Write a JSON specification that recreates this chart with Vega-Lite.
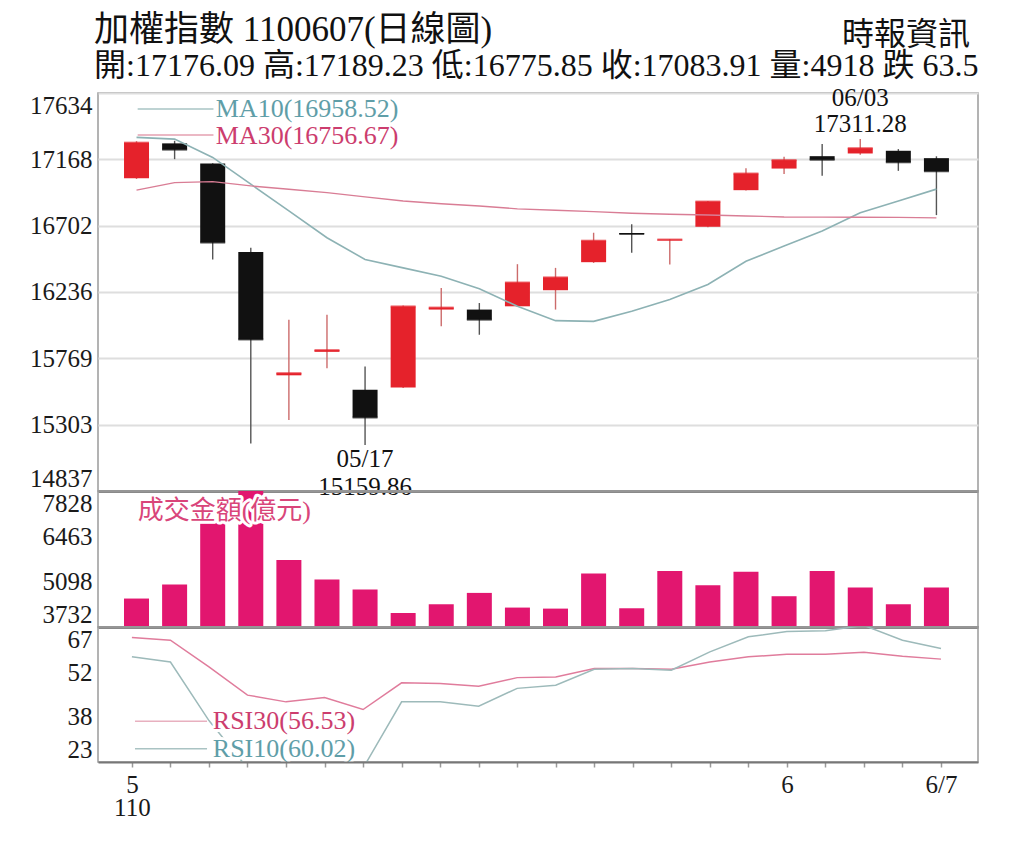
{
  "$schema": "https://vega.github.io/schema/vega-lite/v6.json",
  "background": "white",
  "padding": {"left": 28, "top": 13, "right": 20, "bottom": 10},
  "bounds": "flush",
  "spacing": 0,
  "title": {
    "text": "加權指數 1100607(日線圖)",
    "subtitle": "開:17176.09 高:17189.23 低:16775.85 收:17083.91 量:4918 跌 63.5",
    "anchor": "start",
    "frame": "group",
    "font": "Liberation Serif, Noto Sans CJK TC",
    "subtitleFont": "Liberation Serif, Noto Sans CJK TC",
    "fontSize": 35,
    "fontWeight": "normal",
    "color": "#111111",
    "subtitleFontSize": 32,
    "subtitleFontWeight": "normal",
    "subtitleColor": "#111111",
    "subtitlePadding": 3,
    "dx": -4,
    "offset": -64
  },
  "datasets": {
    "taiex": [
      {"d": "05/07", "i": 0, "open": 17035, "high": 17295, "low": 17030, "close": 17285, "vol": 4589, "ma10": 17322, "ma30": 16951, "rsi10": 57.3, "rsi30": 63.6},
      {"d": "05/10", "i": 1, "open": 17280, "high": 17298, "low": 17169, "close": 17236, "vol": 5014, "ma10": 17310, "ma30": 17004, "rsi10": 55.6, "rsi30": 62.7},
      {"d": "05/11", "i": 2, "open": 17138, "high": 17140, "low": 16464, "close": 16583, "vol": 6900, "ma10": 17181, "ma30": 17011, "rsi10": 36.5, "rsi30": 54.0},
      {"d": "05/12", "i": 3, "open": 16516, "high": 16546, "low": 15170, "close": 15902, "vol": 7828, "ma10": 16993, "ma30": 16981, "rsi10": 21.0, "rsi30": 44.8},
      {"d": "05/13", "i": 4, "open": 15650, "high": 16041, "low": 15336, "close": 15665, "vol": 5750, "ma10": 16805, "ma30": 16958, "rsi10": 20.0, "rsi30": 42.6},
      {"d": "05/14", "i": 5, "open": 15815, "high": 16076, "low": 15700, "close": 15827, "vol": 5165, "ma10": 16617, "ma30": 16934, "rsi10": 21.5, "rsi30": 44.0},
      {"d": "05/17", "i": 6, "open": 15548, "high": 15712, "low": 15159.86, "close": 15353.89, "vol": 4862, "ma10": 16464, "ma30": 16904, "rsi10": 21.0, "rsi30": 40.1},
      {"d": "05/18", "i": 7, "open": 15564, "high": 16140, "low": 15560, "close": 16134, "vol": 4153, "ma10": 16405, "ma30": 16875, "rsi10": 42.6, "rsi30": 48.8},
      {"d": "05/19", "i": 8, "open": 16112, "high": 16264, "low": 15994, "close": 16126, "vol": 4417, "ma10": 16346, "ma30": 16856, "rsi10": 42.6, "rsi30": 48.6},
      {"d": "05/20", "i": 9, "open": 16112, "high": 16158, "low": 15935, "close": 16041, "vol": 4759, "ma10": 16258, "ma30": 16840, "rsi10": 41.2, "rsi30": 47.7},
      {"d": "05/21", "i": 10, "open": 16135, "high": 16431, "low": 16130, "close": 16302, "vol": 4317, "ma10": 16135, "ma30": 16820, "rsi10": 47.0, "rsi30": 50.5},
      {"d": "05/24", "i": 11, "open": 16248, "high": 16405, "low": 16112, "close": 16338, "vol": 4286, "ma10": 16034, "ma30": 16810, "rsi10": 48.0, "rsi30": 50.7},
      {"d": "05/25", "i": 12, "open": 16445, "high": 16652, "low": 16440, "close": 16596, "vol": 5347, "ma10": 16029, "ma30": 16800, "rsi10": 53.2, "rsi30": 53.5},
      {"d": "05/26", "i": 13, "open": 16650, "high": 16711, "low": 16511, "close": 16643, "vol": 4296, "ma10": 16100, "ma30": 16789, "rsi10": 53.5, "rsi30": 53.5},
      {"d": "05/27", "i": 14, "open": 16597, "high": 16606, "low": 16429, "close": 16604, "vol": 5417, "ma10": 16182, "ma30": 16782, "rsi10": 52.9, "rsi30": 53.2},
      {"d": "05/28", "i": 15, "open": 16694, "high": 16875, "low": 16690, "close": 16871, "vol": 4992, "ma10": 16288, "ma30": 16777, "rsi10": 58.9, "rsi30": 55.6},
      {"d": "05/31", "i": 16, "open": 16951, "high": 17106, "low": 16948, "close": 17068, "vol": 5395, "ma10": 16452, "ma30": 16770, "rsi10": 63.8, "rsi30": 57.3},
      {"d": "06/01", "i": 17, "open": 17103, "high": 17186, "low": 17064, "close": 17162, "vol": 4659, "ma10": 16558, "ma30": 16763, "rsi10": 65.5, "rsi30": 58.1},
      {"d": "06/02", "i": 18, "open": 17190, "high": 17275, "low": 17052, "close": 17165, "vol": 5417, "ma10": 16664, "ma30": 16762, "rsi10": 65.8, "rsi30": 58.1},
      {"d": "06/03", "i": 19, "open": 17209, "high": 17311.28, "low": 17200, "close": 17246, "vol": 4923, "ma10": 16793, "ma30": 16761, "rsi10": 67.5, "rsi30": 58.8},
      {"d": "06/04", "i": 20, "open": 17228, "high": 17240, "low": 17087, "close": 17147, "vol": 4417, "ma10": 16875, "ma30": 16760, "rsi10": 62.7, "rsi30": 57.5},
      {"d": "06/07", "i": 21, "open": 17176.09, "high": 17189.23, "low": 16775.85, "close": 17083.91, "vol": 4918, "ma10": 16958.52, "ma30": 16756.67, "rsi10": 60.02, "rsi30": 56.53}
    ]
  },
  "data": {"name": "taiex"},
  "vconcat": [
    {
      "width": 880,
      "height": 398,
      "encoding": {
        "x": {
          "field": "i",
          "type": "quantitative",
          "scale": {"domain": [-0.88, 21.96], "nice": false, "zero": false},
          "axis": {"title": null, "labels": false, "ticks": false, "grid": false, "domainColor": "#8a8a8a", "domainWidth": 3, "zindex": 1}
        }
      },
      "layer": [
        {
          "mark": {"type": "rule", "strokeWidth": 1.4},
          "encoding": {
            "y": {
              "field": "low",
              "type": "quantitative",
              "scale": {"domain": [14837, 17634], "nice": false, "zero": false},
              "axis": {
                "title": null,
                "values": [14837, 15303, 15769, 16236, 16702, 17168, 17634],
                "format": "d",
                "labelFlush": true,
                "labelOverlap": false,
                "ticks": false,
                "domain": false,
                "grid": true,
                "gridColor": "#dedede",
                "gridWidth": 2,
                "labelPadding": 6
              }
            },
            "y2": {"field": "high"},
            "color": {"condition": {"test": "datum.close >= datum.open", "value": "#cc6b6b"}, "value": "#555555"}
          }
        },
        {
          "mark": {"type": "bar", "size": 25, "orient": "vertical"},
          "encoding": {
            "y": {"field": "open", "type": "quantitative"},
            "y2": {"field": "close"},
            "color": {"condition": {"test": "datum.close >= datum.open", "value": "#e5222b"}, "value": "#111111"}
          }
        },
        {
          "mark": {"type": "tick", "orient": "horizontal", "size": 25, "thickness": 2},
          "encoding": {
            "y": {"field": "close", "type": "quantitative"},
            "color": {"condition": {"test": "datum.close >= datum.open", "value": "#e5222b"}, "value": "#111111"}
          }
        },
        {
          "mark": {"type": "line", "color": "#8db2b4", "strokeWidth": 1.6, "clip": true},
          "encoding": {"y": {"field": "ma10", "type": "quantitative"}}
        },
        {
          "mark": {"type": "line", "color": "#d97d95", "strokeWidth": 1.4, "clip": true},
          "encoding": {"y": {"field": "ma30", "type": "quantitative"}}
        },
        {
          "transform": [{"filter": "datum.i == 21"}],
          "layer": [
            {
              "mark": {"type": "rule", "color": "#a9c4c4", "strokeWidth": 1.5},
              "encoding": {"x": {"datum": 0.03}, "x2": {"datum": 2.02}, "y": {"datum": 17522}}
            },
            {
              "mark": {"type": "rule", "color": "#e4a0b0", "strokeWidth": 1.5},
              "encoding": {"x": {"datum": 0.03}, "x2": {"datum": 2.02}, "y": {"datum": 17339}}
            },
            {
              "transform": [{"calculate": "'MA10(' + format(datum.ma10, '.2f') + ')'", "as": "lab"}],
              "mark": {"type": "text", "align": "left", "baseline": "middle", "fontSize": 26, "color": "#5f9ea8"},
              "encoding": {"x": {"datum": 2.08}, "y": {"datum": 17524}, "text": {"field": "lab"}}
            },
            {
              "transform": [{"calculate": "'MA30(' + format(datum.ma30, '.2f') + ')'", "as": "lab"}],
              "mark": {"type": "text", "align": "left", "baseline": "middle", "fontSize": 26, "color": "#cc3d6e"},
              "encoding": {"x": {"datum": 2.08}, "y": {"datum": 17334}, "text": {"field": "lab"}}
            },
            {
              "mark": {"type": "text", "align": "right", "baseline": "middle", "fontSize": 32, "color": "#111111"},
              "encoding": {"x": {"datum": 21.88}, "y": {"datum": 18040}, "text": {"value": "時報資訊"}}
            }
          ]
        },
        {
          "transform": [
            {"joinaggregate": [{"op": "max", "field": "high", "as": "hmax"}]},
            {"filter": "datum.high == datum.hmax"}
          ],
          "layer": [
            {
              "mark": {"type": "text", "baseline": "middle", "fontSize": 25, "dy": -41, "color": "#111111"},
              "encoding": {"y": {"field": "high", "type": "quantitative"}, "text": {"field": "d"}}
            },
            {
              "mark": {"type": "text", "baseline": "middle", "fontSize": 25, "dy": -15, "color": "#111111"},
              "encoding": {"y": {"field": "high", "type": "quantitative"}, "text": {"field": "high", "type": "quantitative", "format": ".2f"}}
            }
          ]
        },
        {
          "transform": [
            {"joinaggregate": [{"op": "min", "field": "low", "as": "lmin"}]},
            {"filter": "datum.low == datum.lmin"}
          ],
          "layer": [
            {
              "mark": {"type": "text", "baseline": "middle", "fontSize": 25, "dy": 14, "color": "#111111"},
              "encoding": {"y": {"field": "low", "type": "quantitative"}, "text": {"field": "d"}}
            },
            {
              "mark": {"type": "text", "baseline": "middle", "fontSize": 25, "dy": 42, "color": "#111111"},
              "encoding": {"y": {"field": "low", "type": "quantitative"}, "text": {"field": "low", "type": "quantitative", "format": ".2f"}}
            }
          ]
        }
      ]
    },
    {
      "width": 880,
      "height": 136,
      "encoding": {
        "x": {
          "field": "i",
          "type": "quantitative",
          "scale": {"domain": [-0.88, 21.96], "nice": false, "zero": false},
          "axis": {"title": null, "labels": false, "ticks": false, "grid": false, "domainColor": "#8a8a8a", "domainWidth": 3, "zindex": 1}
        }
      },
      "layer": [
        {
          "mark": {"type": "bar", "size": 25, "color": "#e2166f", "clip": true, "orient": "vertical"},
          "encoding": {
            "y": {
              "field": "vol",
              "type": "quantitative",
              "scale": {"domain": [3732, 7828], "nice": false, "zero": false},
              "axis": {
                "title": null,
                "values": [3732, 5098, 6463, 7828],
                "format": "d",
                "labelFlush": true,
                "labelOverlap": false,
                "ticks": false,
                "domain": false,
                "grid": false,
                "labelPadding": 6
              }
            },
            "y2": {"datum": 3732}
          }
        },
        {
          "transform": [{"filter": "datum.i == 21"}],
          "layer": [
            {
              "mark": {"type": "text", "align": "left", "baseline": "middle", "fontSize": 26, "fill": "white", "stroke": "white", "strokeWidth": 6, "strokeJoin": "round"},
              "encoding": {"x": {"datum": 0.03}, "y": {"datum": 7226}, "text": {"value": "成交金額(億元)"}}
            },
            {
              "mark": {"type": "text", "align": "left", "baseline": "middle", "fontSize": 26, "color": "#d9457a"},
              "encoding": {"x": {"datum": 0.03}, "y": {"datum": 7226}, "text": {"value": "成交金額(億元)"}}
            }
          ]
        }
      ]
    },
    {
      "width": 880,
      "height": 135,
      "encoding": {
        "x": {
          "field": "i",
          "type": "quantitative",
          "scale": {"domain": [-0.88, 21.96], "nice": false, "zero": false},
          "axis": {
            "title": null,
            "values": [0, 1, 2, 3, 4, 5, 6, 7, 8, 9, 10, 11, 12, 13, 14, 15, 16, 17, 18, 19, 20, 21],
            "labelExpr": "datum.value == 0 ? ['5', '110'] : datum.value == 17 ? '6' : datum.value == 21 ? '6/7' : ''",
            "labelFlush": false,
            "labelOverlap": false,
            "labelLineHeight": 23,
            "labelPadding": 5,
            "tickSize": 5,
            "tickColor": "#999999",
            "tickWidth": 1.5,
            "domainColor": "#777777",
            "domainWidth": 2,
            "grid": false,
            "zindex": 1
          }
        }
      },
      "layer": [
        {
          "transform": [{"filter": "datum.i == 21"}],
          "layer": [
            {
              "mark": {"type": "rule", "color": "#e8b0bf", "strokeWidth": 1.5},
              "encoding": {"x": {"datum": 0.08}, "x2": {"datum": 1.95}, "y": {"datum": 36.25}}
            },
            {
              "mark": {"type": "rule", "color": "#aac3c3", "strokeWidth": 1.5},
              "encoding": {"x": {"datum": 0.08}, "x2": {"datum": 1.95}, "y": {"datum": 27.3}}
            }
          ]
        },
        {
          "mark": {"type": "line", "color": "#e07c9c", "strokeWidth": 1.5, "clip": true},
          "encoding": {
            "y": {
              "field": "rsi30",
              "type": "quantitative",
              "scale": {"domain": [23, 67], "nice": false, "zero": false},
              "axis": {
                "title": null,
                "values": [23, 37.67, 52.33, 67],
                "format": ".0f",
                "labelFlush": true,
                "labelOverlap": false,
                "ticks": false,
                "domain": false,
                "grid": false,
                "labelPadding": 6
              }
            }
          }
        },
        {
          "mark": {"type": "line", "color": "#9dbaba", "strokeWidth": 1.5, "clip": true},
          "encoding": {"y": {"field": "rsi10", "type": "quantitative"}}
        },
        {
          "transform": [
            {"filter": "datum.i == 21"},
            {"calculate": "'RSI30(' + format(datum.rsi30, '.2f') + ')'", "as": "lab30"},
            {"calculate": "'RSI10(' + format(datum.rsi10, '.2f') + ')'", "as": "lab10"}
          ],
          "layer": [
            {
              "mark": {"type": "text", "align": "left", "baseline": "middle", "fontSize": 26, "fill": "white", "stroke": "white", "strokeWidth": 6, "strokeJoin": "round"},
              "encoding": {"x": {"datum": 2.1}, "y": {"datum": 36.25}, "text": {"field": "lab30"}}
            },
            {
              "mark": {"type": "text", "align": "left", "baseline": "middle", "fontSize": 26, "fill": "white", "stroke": "white", "strokeWidth": 6, "strokeJoin": "round"},
              "encoding": {"x": {"datum": 2.1}, "y": {"datum": 27.25}, "text": {"field": "lab10"}}
            },
            {
              "mark": {"type": "text", "align": "left", "baseline": "middle", "fontSize": 26, "color": "#cc3d6e"},
              "encoding": {"x": {"datum": 2.1}, "y": {"datum": 36.25}, "text": {"field": "lab30"}}
            },
            {
              "mark": {"type": "text", "align": "left", "baseline": "middle", "fontSize": 26, "color": "#5f9ea8"},
              "encoding": {"x": {"datum": 2.1}, "y": {"datum": 27.25}, "text": {"field": "lab10"}}
            }
          ]
        }
      ]
    }
  ],
  "config": {
    "font": "Liberation Serif, Noto Sans CJK TC",
    "view": {"stroke": "#9a9a9a", "strokeWidth": 1.5},
    "axis": {"labelFontSize": 25, "labelColor": "#1a1a1a", "labelFont": "Liberation Serif, Noto Sans CJK TC"},
    "title": {"font": "Liberation Serif, Noto Sans CJK TC", "subtitleFont": "Liberation Serif, Noto Sans CJK TC"},
    "text": {"font": "Liberation Serif, Noto Sans CJK TC"}
  }
}
